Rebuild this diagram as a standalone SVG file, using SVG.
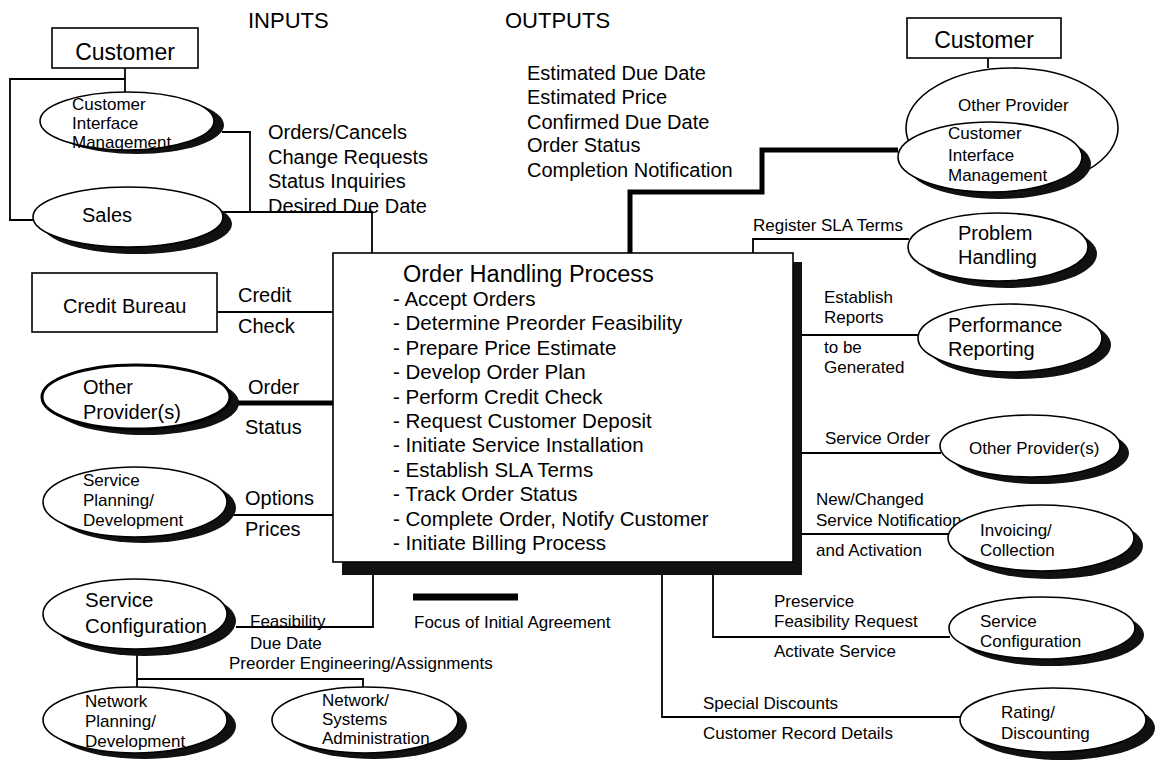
<svg xmlns="http://www.w3.org/2000/svg" width="1161" height="771" viewBox="0 0 1161 771">
<style>
text{font-family:"Liberation Sans",Arial,sans-serif;fill:#000}
.t17{font-size:17px}
.t20{font-size:20px}
.t22{font-size:22px}
.t23{font-size:23px}
.box{fill:#fff;stroke:#000;stroke-width:1.6}
.el{fill:#fff;stroke:#000;stroke-width:1.6}
.elb{fill:#fff;stroke:#000;stroke-width:3}
.sh{fill:#111;stroke:none}
.ln{fill:none;stroke:#000;stroke-width:1.8}
.thick{fill:none;stroke:#000;stroke-width:5}
</style>
<rect width="1161" height="771" fill="#fff"/>

<text class="t22" x="248" y="28">INPUTS</text>
<text class="t22" x="505" y="28">OUTPUTS</text>

<g id="connectors">
<path class="ln" d="M125,68 V92"/>
<path class="ln" d="M125,79 H10 V220 H34"/>
<path class="ln" d="M222,132 H250 V212"/>
<path class="ln" d="M222,212 H372 V253"/>
<path class="ln" d="M217,312 H333"/>
<path class="thick" d="M232,403 H333"/>
<path class="ln" d="M232,515 H333"/>
<path class="ln" d="M236,627 H373 V573"/>
<path class="ln" d="M137,649 V688"/>
<path class="ln" d="M137,679 H363 V688"/>
<path class="thick" d="M630,253 V192 H762 V150 H898"/>
<path class="ln" d="M988,58 V68"/>
<path class="ln" d="M753,253 V239 H909"/>
<path class="ln" d="M802,335 H919"/>
<path class="ln" d="M802,453 H941"/>
<path class="ln" d="M802,534 H949"/>
<path class="ln" d="M713,574 V637 H950"/>
<path class="ln" d="M662,574 V717 H961"/>
<path class="thick" d="M413,597 H518" style="stroke-width:7"/>
</g>

<text class="t17" x="414" y="628">Focus of Initial Agreement</text>

<!-- input labels -->
<text class="t20" x="268" y="139">Orders/Cancels</text>
<text class="t20" x="268" y="164">Change Requests</text>
<text class="t20" x="268" y="188">Status Inquiries</text>
<text class="t20" x="268" y="213">Desired Due Date</text>
<text class="t20" x="238" y="302">Credit</text>
<text class="t20" x="238" y="333">Check</text>
<text class="t20" x="248" y="394">Order</text>
<text class="t20" x="245" y="434">Status</text>
<text class="t20" x="245" y="505">Options</text>
<text class="t20" x="245" y="536">Prices</text>
<text class="t17" x="250" y="627">Feasibility</text>
<text class="t17" x="250" y="649">Due Date</text>
<text class="t17" x="229" y="669">Preorder Engineering/Assignments</text>

<!-- output labels -->
<text class="t20" x="527" y="80">Estimated Due Date</text>
<text class="t20" x="527" y="104">Estimated Price</text>
<text class="t20" x="527" y="129">Confirmed Due Date</text>
<text class="t20" x="527" y="152">Order Status</text>
<text class="t20" x="527" y="177">Completion Notification</text>
<text class="t17" x="753" y="231">Register SLA Terms</text>
<text class="t17" x="824" y="303">Establish</text>
<text class="t17" x="824" y="323">Reports</text>
<text class="t17" x="824" y="353">to be</text>
<text class="t17" x="824" y="373">Generated</text>
<text class="t17" x="825" y="444">Service Order</text>
<text class="t17" x="816" y="505">New/Changed</text>
<text class="t17" x="816" y="526">Service Notification</text>
<text class="t17" x="816" y="556">and Activation</text>
<text class="t17" x="774" y="607">Preservice</text>
<text class="t17" x="774" y="627">Feasibility Request</text>
<text class="t17" x="774" y="657">Activate Service</text>
<text class="t17" x="703" y="709">Special Discounts</text>
<text class="t17" x="703" y="739">Customer Record Details</text>

<g id="main-process">
<rect class="sh" x="342" y="262" width="460" height="313"/>
<rect class="box" x="333" y="253" width="460" height="309"/>
<text x="403" y="282" style="font-size:23.5px">Order Handling Process</text>
<g style="font-size:20.5px">
<text x="393" y="306">- Accept Orders</text>
<text x="393" y="330">- Determine Preorder Feasibility</text>
<text x="393" y="355">- Prepare Price Estimate</text>
<text x="393" y="379">- Develop Order Plan</text>
<text x="393" y="404">- Perform Credit Check</text>
<text x="393" y="428">- Request Customer Deposit</text>
<text x="393" y="452">- Initiate Service Installation</text>
<text x="393" y="477">- Establish SLA Terms</text>
<text x="393" y="501">- Track Order Status</text>
<text x="393" y="526">- Complete Order, Notify Customer</text>
<text x="393" y="550">- Initiate Billing Process</text>
</g>
</g>

<g id="customer-left">
<rect class="box" x="52" y="28" width="146" height="40"/>
<text class="t23" x="125" y="60" text-anchor="middle">Customer</text>
</g>

<g id="cim-left">
<ellipse class="sh" cx="137" cy="125" rx="87" ry="29"/>
<ellipse class="el" cx="127" cy="121" rx="87" ry="29"/>
<text class="t17" x="72" y="110">Customer</text>
<text class="t17" x="72" y="129">Interface</text>
<text class="t17" x="72" y="148">Management</text>
</g>

<g id="sales">
<ellipse class="sh" cx="137" cy="224" rx="95" ry="30"/>
<ellipse class="el" cx="128" cy="217" rx="95" ry="30"/>
<text class="t20" x="82" y="222">Sales</text>
</g>

<g id="credit-bureau">
<rect class="box" x="32" y="273" width="185" height="59"/>
<text class="t20" x="63" y="313">Credit Bureau</text>
</g>

<g id="other-providers-left">
<ellipse class="sh" cx="145" cy="403" rx="94" ry="32"/>
<ellipse class="elb" cx="136" cy="397" rx="94" ry="32"/>
<text class="t20" x="83" y="394">Other</text>
<text class="t20" x="83" y="419">Provider(s)</text>
</g>

<g id="service-planning">
<ellipse class="sh" cx="144" cy="508" rx="92" ry="35"/>
<ellipse class="el" cx="135" cy="502" rx="92" ry="35"/>
<text class="t17" x="83" y="486">Service</text>
<text class="t17" x="83" y="506">Planning/</text>
<text class="t17" x="83" y="526">Development</text>
</g>

<g id="service-config-left">
<ellipse class="sh" cx="144" cy="621" rx="92" ry="35"/>
<ellipse class="el" cx="135" cy="614" rx="92" ry="35"/>
<text x="85" y="607" style="font-size:20.5px">Service</text>
<text x="85" y="633" style="font-size:20.5px">Configuration</text>
</g>

<g id="network-planning">
<ellipse class="sh" cx="144" cy="726" rx="92" ry="33"/>
<ellipse class="el" cx="135" cy="720" rx="92" ry="33"/>
<text class="t17" x="85" y="707">Network</text>
<text class="t17" x="85" y="727">Planning/</text>
<text class="t17" x="85" y="747">Development</text>
</g>

<g id="network-systems">
<ellipse class="sh" cx="374" cy="726" rx="93" ry="33"/>
<ellipse class="el" cx="365" cy="720" rx="93" ry="33"/>
<text class="t17" x="322" y="706">Network/</text>
<text class="t17" x="322" y="725">Systems</text>
<text class="t17" x="322" y="744">Administration</text>
</g>

<g id="customer-right">
<rect class="box" x="907" y="18" width="154" height="40"/>
<text class="t23" x="984" y="48" text-anchor="middle">Customer</text>
</g>

<g id="other-provider-right">
<ellipse class="el" cx="1012" cy="128" rx="106" ry="60"/>
<text class="t17" x="958" y="111">Other Provider</text>
</g>

<g id="cim-right">
<ellipse class="sh" cx="999" cy="164" rx="92" ry="35"/>
<ellipse class="el" cx="990" cy="157" rx="92" ry="35"/>
<text class="t17" x="948" y="139">Customer</text>
<text class="t17" x="948" y="161">Interface</text>
<text class="t17" x="948" y="181">Management</text>
</g>

<g id="problem-handling">
<ellipse class="sh" cx="1007" cy="254" rx="90" ry="34"/>
<ellipse class="el" cx="998" cy="247" rx="90" ry="34"/>
<text class="t20" x="958" y="240">Problem</text>
<text class="t20" x="958" y="264">Handling</text>
</g>

<g id="performance-reporting">
<ellipse class="sh" cx="1019" cy="345" rx="92" ry="34"/>
<ellipse class="el" cx="1010" cy="338" rx="92" ry="34"/>
<text class="t20" x="948" y="332">Performance</text>
<text class="t20" x="948" y="356">Reporting</text>
</g>

<g id="other-providers-right">
<ellipse class="sh" cx="1039" cy="453" rx="90" ry="31"/>
<ellipse class="el" cx="1030" cy="446" rx="90" ry="31"/>
<text class="t17" x="969" y="454">Other Provider(s)</text>
</g>

<g id="invoicing">
<ellipse class="sh" cx="1050" cy="546" rx="93" ry="33"/>
<ellipse class="el" cx="1041" cy="538" rx="93" ry="33"/>
<text class="t17" x="980" y="536">Invoicing/</text>
<text class="t17" x="980" y="556">Collection</text>
</g>

<g id="service-config-right">
<ellipse class="sh" cx="1051" cy="635" rx="93" ry="31"/>
<ellipse class="el" cx="1042" cy="628" rx="93" ry="31"/>
<text class="t17" x="980" y="627">Service</text>
<text class="t17" x="980" y="647">Configuration</text>
</g>

<g id="rating">
<ellipse class="sh" cx="1062" cy="728" rx="93" ry="32"/>
<ellipse class="el" cx="1053" cy="720" rx="93" ry="32"/>
<text class="t17" x="1001" y="718">Rating/</text>
<text class="t17" x="1001" y="739">Discounting</text>
</g>
</svg>
